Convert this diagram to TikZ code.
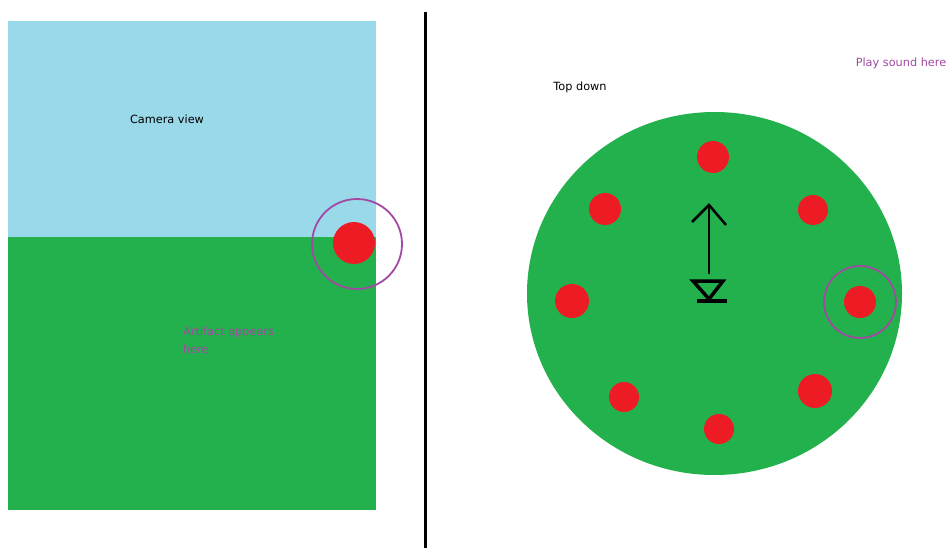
\documentclass[tikz,border=0pt]{standalone}
\usepackage{fontspec}
\usetikzlibrary{shapes.geometric}
\setmainfont{DejaVu Sans}
\definecolor{sky}{HTML}{99D9EA}
\definecolor{grass}{HTML}{22B14C}
\definecolor{dot}{HTML}{ED1C24}
\definecolor{ring}{HTML}{A349A4}
\tikzset{
  reddot/.style={circle,fill=dot,draw=none,inner sep=0pt},
  ringc/.style={circle,draw=ring,line width=1.8pt,inner sep=0pt},
  lbl/.style={font=\fontsize{11.3}{18}\selectfont,inner sep=0pt},
}
\begin{document}
\begin{tikzpicture}[x=1pt,y=-1pt]
\useasboundingbox (0,0) rectangle (949,548);
% left panel
\fill[sky] (8,21) rectangle (376,237);
\fill[grass] (8,237) rectangle (376,510);
\node[reddot,minimum size=42pt] (artL) at (354,243) {};
\node[ringc,minimum size=90pt] (ringL) at (357,244) {};
\node[lbl,text=black] (cam) at (167,119) {Camera view};
\node[lbl,text=ring,align=left,anchor=west] (art) at (183,340) {Artifact appears\\here};
% divider
\coordinate (dtop) at (425,12);
\coordinate (dbot) at (425,548);
\draw[line width=3pt] (dtop) -- (dbot);
% right panel
\node[ellipse,fill=grass,draw=none,minimum width=375pt,minimum height=363pt,inner sep=0pt] (field) at (714.5,293.5) {};
\node[reddot,minimum size=32pt] (d1) at (713,157) {};
\node[reddot,minimum size=32pt] (d2) at (605,209) {};
\node[reddot,minimum size=30pt] (d3) at (813,210) {};
\node[reddot,minimum size=34pt] (d4) at (572,301) {};
\node[reddot,minimum size=32pt] (d5) at (860,302) {};
\node[reddot,minimum size=30pt] (d6) at (624,397) {};
\node[reddot,minimum size=34pt] (d7) at (815,391) {};
\node[reddot,minimum size=30pt] (d8) at (719,429) {};
\node[ringc,minimum size=72pt] (ringR) at (860,302) {};
\node[lbl,text=black] (top) at (580,87) {Top down};
\node[lbl,text=ring] (play) at (901,63) {Play sound here};
% arrow
\coordinate (ab) at (709,274);
\coordinate (at) at (709,205);
\coordinate (al) at (692,222);
\coordinate (ar) at (726,225);
\draw[line width=2.5pt] (ab) -- (at);
\draw[line width=2.5pt,line join=miter] (al) -- (at) -- (ar);
% player triangle
\coordinate (t1) at (693,281);
\coordinate (t2) at (723,281);
\coordinate (tv) at (709,299);
\coordinate (b1) at (697,301);
\coordinate (b2) at (727,301);
\draw[line width=3.5pt,line join=miter] (t1) -- (t2) -- (tv) -- cycle;
\draw[line width=3.5pt] (b1) -- (b2);
\end{tikzpicture}
\end{document}
